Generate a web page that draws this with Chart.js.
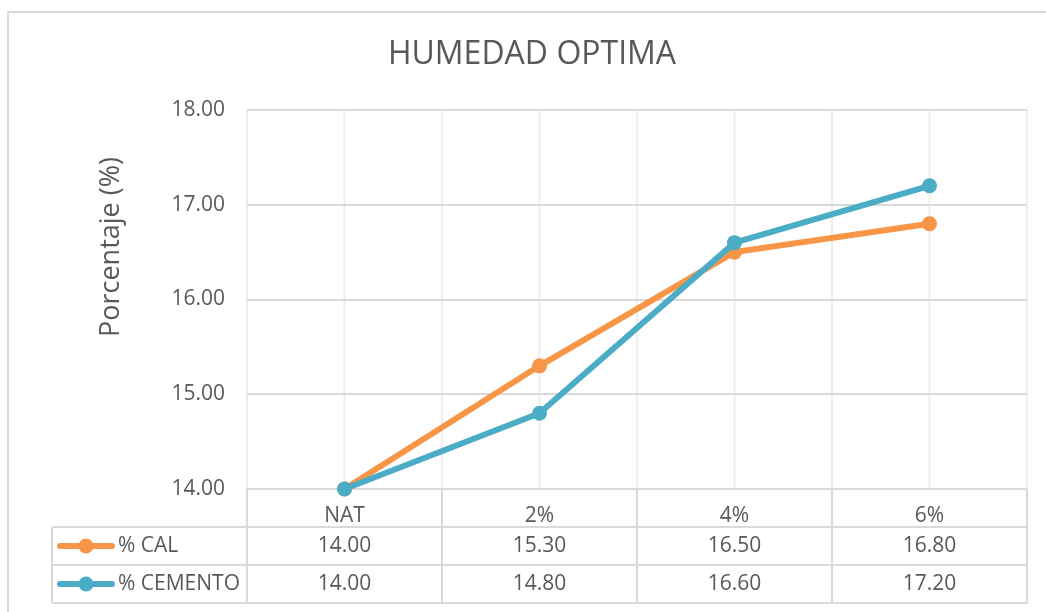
<!DOCTYPE html>
<html lang="es">
<head>
<meta charset="UTF-8">
<title>Humedad óptima</title>
<script src="https://cdn.jsdelivr.net/npm/chart.js@4.4.1/dist/chart.umd.min.js"></script>
<style>
    html, body { margin: 0; padding: 0; background: #fff; }
    #contenedor { width: 1046px; height: 612px; }
</style>
</head>
<body>
<div id="contenedor"><canvas id="chartHumedad"></canvas></div>
<script>
/* ============================================================
   Datos del gráfico
   ============================================================ */
const categorias = ["NAT", "2%", "4%", "6%"];
const serieCal = [14.00, 15.30, 16.50, 16.80];
const serieCemento = [14.00, 14.80, 16.60, 17.20];
const nombresSeries = ["% CAL", "% CEMENTO"];
const ticksY = [14, 15, 16, 17, 18];

const tituloGrafico = "HUMEDAD OPTIMA";
const tituloEjeY = "Porcentaje (%)";

/* ============================================================
   Estilos
   ============================================================ */
const FUENTE = "'Open Sans', sans-serif";
const GRIS_TEXTO = "#595959";
const GRIS_LINEA = "#d9d9d9";
const GRIS_SUAVE = "#eeeeee";
const COLORES = ["#F79646", "#4BACC6"];

const ALTO_FILA = 38;
const IZQ_TABLA = 52;

function linea(ctx, x1, y1, x2, y2) {
    ctx.beginPath();
    ctx.moveTo(x1, y1);
    ctx.lineTo(x2, y2);
    ctx.stroke();
}

/* ============================================================
   Plugin: borde, rejilla vertical, tabla de datos y títulos
   ============================================================ */
const pluginTabla = {
    id: "tablaDatos",

    beforeDraw(chart) {
        const { ctx, chartArea: ca, scales: { x } } = chart;
        const mitad = (x.getPixelForValue(1) - x.getPixelForValue(0)) / 2;

        ctx.save();
        // borde exterior del gráfico (se corta a la derecha y abajo)
        ctx.strokeStyle = GRIS_LINEA;
        ctx.lineWidth = 2;
        ctx.strokeRect(8, 12, chart.width + 20, chart.height + 20);

        // líneas verticales suaves (centros y límites de categoría)
        ctx.strokeStyle = GRIS_SUAVE;
        categorias.forEach((c, i) => {
            const xc = x.getPixelForValue(i);
            linea(ctx, xc, ca.top, xc, ca.bottom);
            linea(ctx, xc - mitad, ca.top, xc - mitad, ca.bottom);
            linea(ctx, xc + mitad, ca.top, xc + mitad, ca.bottom);
        });
        ctx.restore();
    },

    beforeDatasetsDraw(chart) {
        const { ctx, chartArea: ca, scales: { x } } = chart;
        const mitad = (x.getPixelForValue(1) - x.getPixelForValue(0)) / 2;
        const y0 = ca.bottom;
        const yFin = y0 + ALTO_FILA * 3;

        ctx.save();
        ctx.strokeStyle = GRIS_LINEA;
        ctx.lineWidth = 2;

        // filas
        linea(ctx, ca.left, y0, ca.right, y0);
        for (let f = 1; f <= 3; f++) {
            linea(ctx, IZQ_TABLA, y0 + ALTO_FILA * f, ca.right, y0 + ALTO_FILA * f);
        }
        // columnas
        linea(ctx, IZQ_TABLA, y0 + ALTO_FILA, IZQ_TABLA, yFin);
        linea(ctx, ca.left, y0, ca.left, yFin);
        categorias.forEach((c, i) => {
            const xb = x.getPixelForValue(i) + mitad;
            linea(ctx, xb, y0, xb, yFin);
        });

        // filas de valores con su clave de leyenda
        const series = [serieCal, serieCemento];
        ctx.font = "21px " + FUENTE;
        ctx.textBaseline = "middle";
        series.forEach((serie, s) => {
            const yc = y0 + ALTO_FILA * (s + 1) + ALTO_FILA / 2;

            ctx.strokeStyle = COLORES[s];
            ctx.fillStyle = COLORES[s];
            ctx.lineWidth = 6;
            ctx.lineCap = "round";
            linea(ctx, IZQ_TABLA + 8, yc, IZQ_TABLA + 60, yc);
            ctx.beginPath();
            ctx.arc(IZQ_TABLA + 34, yc, 7.5, 0, Math.PI * 2);
            ctx.fill();

            ctx.fillStyle = GRIS_TEXTO;
            ctx.textAlign = "left";
            ctx.fillText(nombresSeries[s], IZQ_TABLA + 66, yc);

            ctx.textAlign = "center";
            serie.forEach((v, i) => {
                ctx.fillText(v.toFixed(2), x.getPixelForValue(i), yc);
            });
        });
        ctx.restore();
    },

    afterDraw(chart) {
        const ctx = chart.ctx;
        ctx.save();
        ctx.fillStyle = GRIS_TEXTO;
        ctx.textAlign = "center";
        ctx.textBaseline = "middle";

        ctx.font = "32px " + FUENTE;
        ctx.fillText(tituloGrafico, 532, 55);

        ctx.translate(111, 247);
        ctx.rotate(-Math.PI / 2);
        ctx.font = "27px " + FUENTE;
        ctx.fillText(tituloEjeY, 0, 0);
        ctx.restore();
    }
};

/* ============================================================
   Gráfico
   ============================================================ */
function serie(nombre, datos, color, orden) {
    return {
        label: nombre,
        data: datos,
        order: orden,
        borderColor: color,
        backgroundColor: color,
        borderWidth: 6,
        pointRadius: 7.5,
        pointBorderWidth: 0,
        pointBackgroundColor: color,
        tension: 0,
        fill: false,
        clip: false
    };
}

new Chart(document.getElementById("chartHumedad"), {
    type: "line",
    data: {
        labels: categorias,
        datasets: [
            serie(nombresSeries[0], serieCal, COLORES[0], 1),
            serie(nombresSeries[1], serieCemento, COLORES[1], 0)
        ]
    },
    options: {
        responsive: true,
        maintainAspectRatio: false,
        animation: false,
        events: [],
        layout: { padding: { top: 110, right: 19, bottom: 9, left: 0 } },
        plugins: {
            legend: { display: false },
            tooltip: { enabled: false },
            title: { display: false }
        },
        scales: {
            x: {
                offset: true,
                grid: { display: false },
                border: { display: false },
                ticks: {
                    padding: 6,
                    color: GRIS_TEXTO,
                    font: { family: FUENTE, size: 21 }
                },
                afterFit: s => { s.height = ALTO_FILA * 3; }
            },
            y: {
                min: ticksY[0],
                max: ticksY[ticksY.length - 1],
                grid: { color: GRIS_LINEA, lineWidth: 2, drawTicks: false },
                border: { display: false },
                ticks: {
                    stepSize: ticksY[1] - ticksY[0],
                    padding: 22,
                    color: GRIS_TEXTO,
                    font: { family: FUENTE, size: 21 },
                    callback: v => Number(v).toFixed(2)
                },
                afterFit: s => { s.width = 247; }
            }
        }
    },
    plugins: [pluginTabla]
});
</script>
</body>
</html>
